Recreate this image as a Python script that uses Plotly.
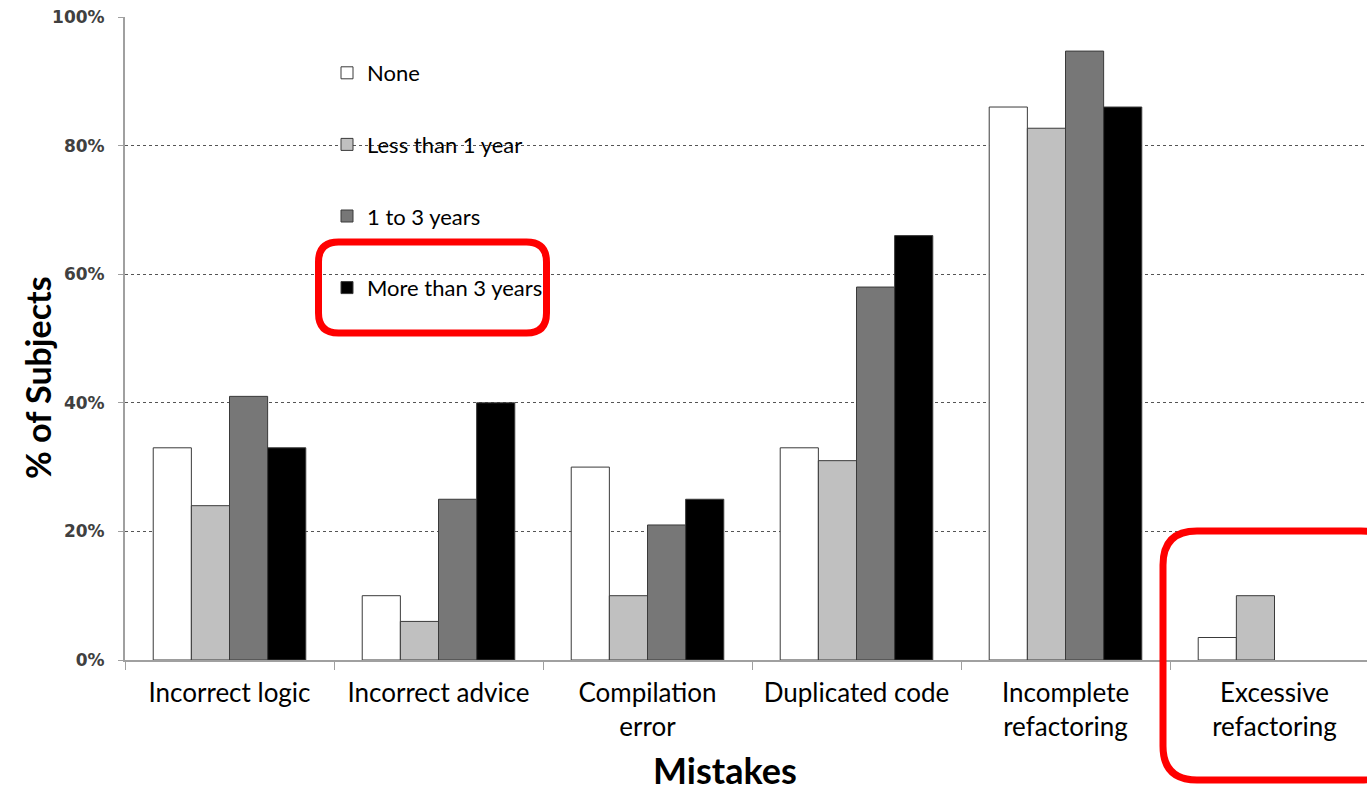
import plotly.graph_objects as go

# Mistake categories and share of subjects (%) per experience level
categories = [
    "Incorrect logic",
    "Incorrect advice",
    "Compilation<br>error",
    "Duplicated code",
    "Incomplete<br>refactoring",
    "Excessive<br>refactoring",
]
series_names = ["None", "Less than 1 year", "1 to 3 years", "More than 3 years"]
none_vals = [33, 10, 30, 33, 86, 3.5]
less_1yr_vals = [24, 6, 10, 31, 82.7, 10]
one_to_3_vals = [41, 25, 21, 58, 94.7, None]
more_3_vals = [33, 40, 25, 66, 86, None]
y_ticks = [0, 20, 40, 60, 80, 100]

series_values = [none_vals, less_1yr_vals, one_to_3_vals, more_3_vals]
fill_colors = ["#ffffff", "#c0c0c0", "#777777", "#000000"]

W, H = 1367, 795
ML, MT, MB = 125, 17, 135
plot_w = W - ML
plot_h = H - MT - MB
group_px = 209


def px_x(x):
    return (x - ML) / plot_w


def px_y(y):
    return (H - MB - y) / plot_h


fig = go.Figure()
for i, (name, vals, col) in enumerate(zip(series_names, series_values, fill_colors)):
    fig.add_trace(go.Bar(
        x=categories,
        y=vals,
        name=name,
        legendgroup=f"g{i}",
        marker=dict(color=col, line=dict(color="#3a3a3a", width=1)),
    ))


def rounded_rect(x0, y0, x1, y1, r):
    # rounded rectangle path given in pixels, converted to paper units
    pts = [
        ("M", [(x0 + r, y0)]),
        ("L", [(x1 - r, y0)]),
        ("Q", [(x1, y0), (x1, y0 + r)]),
        ("L", [(x1, y1 - r)]),
        ("Q", [(x1, y1), (x1 - r, y1)]),
        ("L", [(x0 + r, y1)]),
        ("Q", [(x0, y1), (x0, y1 - r)]),
        ("L", [(x0, y0 + r)]),
        ("Q", [(x0, y0), (x0 + r, y0)]),
    ]
    d = ""
    for cmd, ps in pts:
        d += cmd + " ".join(f"{px_x(a):.5f},{px_y(b):.5f}" for a, b in ps) + " "
    return d + "Z"


shapes = [
    # white panel behind the legend, hiding the grid there
    dict(type="rect", xref="paper", yref="paper", layer="between",
         x0=px_x(255), x1=px_x(640), y0=px_y(310), y1=px_y(40),
         fillcolor="white", line=dict(width=0)),
    # highlight frames
    dict(type="path", xref="paper", yref="paper",
         path=rounded_rect(318.5, 242, 546.5, 333, 20),
         line=dict(color="#ff0000", width=7)),
    dict(type="path", xref="paper", yref="paper",
         path=rounded_rect(1163, 531, 1395, 780, 34),
         line=dict(color="#ff0000", width=7)),
]

annotations = [
    dict(text="<b>% of Subjects</b>", xref="paper", yref="paper",
         x=px_x(37), y=px_y(378), xanchor="center", yanchor="middle",
         showarrow=False, textangle=-90,
         font=dict(family="Lato", size=34, color="#000000")),
    dict(text="<b>Mistakes</b>", xref="paper", yref="paper",
         x=px_x(725), y=px_y(770), xanchor="center", yanchor="middle",
         showarrow=False,
         font=dict(family="Lato", size=36, color="#000000")),
]

fig.update_layout(
    width=W, height=H,
    margin=dict(l=ML, r=0, t=MT, b=MB, pad=0),
    paper_bgcolor="white", plot_bgcolor="white",
    barmode="group", bargap=0.27, bargroupgap=0,
    showlegend=True,
    legend=dict(
        x=px_x(327), y=px_y(52), xanchor="left", yanchor="top",
        bgcolor="rgba(0,0,0,0)", borderwidth=0,
        font=dict(family="Lato", size=22, color="#000000"),
        tracegroupgap=40, traceorder="grouped",
    ),
    shapes=shapes,
    annotations=annotations,
    xaxis=dict(
        range=[-0.5, -0.5 + plot_w / group_px],
        showgrid=False, tickson="boundaries",
        ticks="outside", ticklen=8, tickcolor="#a0a0a0", tickwidth=1,
        showline=True, linecolor="#a0a0a0", linewidth=2,
        tickfont=dict(family="Lato", size=26, color="#000000"),
        ticklabelstandoff=9,
    ),
    yaxis=dict(
        range=[0, 100], tickvals=y_ticks,
        ticktext=[f"{v}%" for v in y_ticks],
        showgrid=True, gridcolor="#555555", gridwidth=1, griddash="3px,3px",
        ticks="outside", ticklen=5, tickcolor="#a0a0a0", tickwidth=1,
        showline=True, linecolor="#a0a0a0", linewidth=2,
        tickfont=dict(family="DejaVu Sans", size=17, color="#404040", weight="bold"),
        ticklabelstandoff=10,
        zeroline=False,
    ),
)

fig.write_html("out.html")
